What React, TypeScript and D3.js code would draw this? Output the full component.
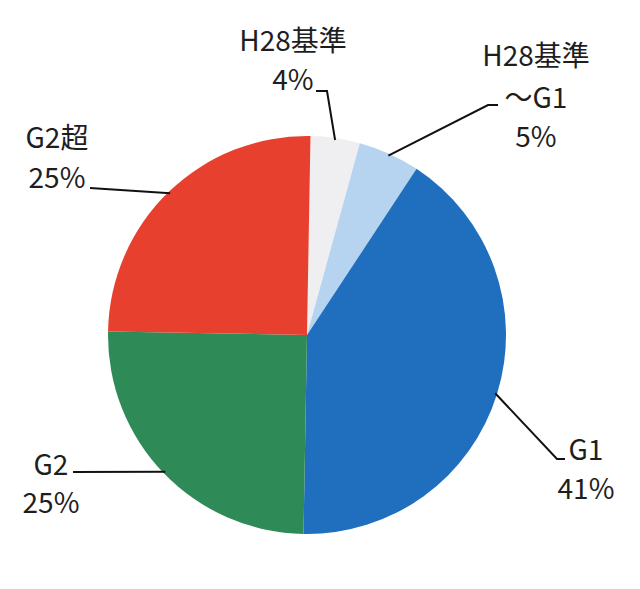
import React from "react";
import * as d3 from "d3";

const categories = ["H28基準", "H28基準～G1", "G1", "G2", "G2超"];
const values = [4, 5, 41, 25, 25];
const labelLines = [["H28基準", "4%"], ["H28基準", "～G1", "5%"], ["G1", "41%"], ["G2", "25%"], ["G2超", "25%"]];
const colors = ["#efeff1", "#b6d4ef", "#1f6fbe", "#2e8a56", "#e8402f"];

// layout (positions of labels & leader knees)
const labelLayout = [
  { x: 293, ys: [51, 90], knees: [[316, 91], [327, 91]] },
  { x: 536, ys: [66, 108, 147], knees: [[498, 105], [488, 105]] },
  { x: 586, ys: [460, 499], knees: [[565, 459], [557, 459]] },
  { x: 51, ys: [475, 513], knees: [[73, 472]] },
  { x: 57, ys: [148, 188], knees: [[90, 188]] },
];

const W = 640, H = 589;
const cx = 307, cy = 335, R = 199;
const rot = (1 * Math.PI) / 180;

export default function App() {
  const pie = d3.pie<number>().sort(null).value((d) => d).startAngle(rot).endAngle(rot + 2 * Math.PI);
  const arcs = pie(values);
  const arc = d3.arc<d3.PieArcDatum<number>>().innerRadius(0).outerRadius(R);
  const line = d3.line();
  return (
    <svg width={W} height={H} style={{ position: "absolute", left: 0, top: 0, background: "#fff" }}
      fontFamily="'Noto Sans CJK JP', 'Noto Sans', sans-serif">
      <g transform={`translate(${cx},${cy})`}>
        {arcs.map((a, i) => (
          <path key={categories[i]} d={arc(a) || ""} fill={colors[i]} />
        ))}
      </g>
      {arcs.map((a, i) => {
        const mid = (a.startAngle + a.endAngle) / 2;
        const px = cx + Math.sin(mid) * (R - 2);
        const py = cy - Math.cos(mid) * (R - 2);
        const pts = [...labelLayout[i].knees, [px, py]] as [number, number][];
        return <path key={"l" + i} d={line(pts) || ""} fill="none" stroke="#111" strokeWidth={2} />;
      })}
      {labelLines.map((lines, i) => (
        <g key={"t" + i}>
          {lines.map((t, j) => (
            <text key={j} x={labelLayout[i].x} y={labelLayout[i].ys[j]} textAnchor="middle"
              fontSize={28} fill="#1e1e1e" fontWeight={400}>
              {t}
            </text>
          ))}
        </g>
      ))}
    </svg>
  );
}
